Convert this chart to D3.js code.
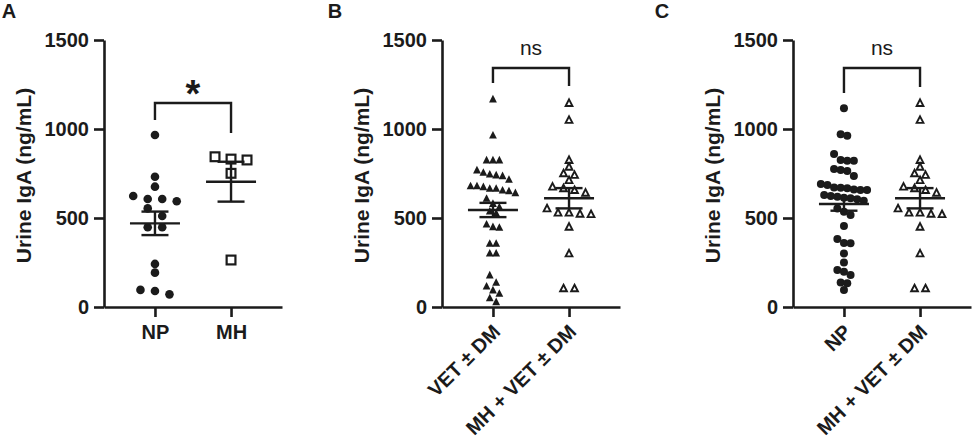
<!DOCTYPE html>
<html>
<head>
<meta charset="utf-8">
<script src="https://cdn.jsdelivr.net/npm/d3@7"></script>
<style>
  html, body { margin: 0; padding: 0; background: #ffffff; }
  svg { display: block; }
  text { font-family: "Liberation Sans", Arial, Helvetica, sans-serif; fill: #1b1b1b; }
</style>
</head>
<body>
<svg id="chart" width="975" height="442"></svg>
<script>
// ---------------- DATA ----------------
const yTicks = [0, 500, 1000, 1500];
const yTitle = "Urine IgA (ng/mL)";
const panelLabels = ["A", "B", "C"];

// Panel A
const catsA = ["NP", "MH"];
const npA = [966, 732, 676, 624, 607, 594, 607, 554, 511, 448, 448, 242, 193, 96, 90, 71];
const mhA = [831, 844, 826, 751, 264];
const meanA = [470, 704];
const semA = [66, 112];
const bracketA = [1146, 1051, 978];
const sigA = "*";

// Panel B
const catsB = ["VET ± DM", "MH + VET ± DM"];
const vetB = [1169, 966, 826, 826, 826, 770, 742, 738, 757, 747, 717, 681, 681, 657, 642, 653,
              667, 667, 676, 611, 582, 563, 539, 528, 466, 448, 451, 358, 358, 303, 303, 180,
              139, 118, 96, 77, 52, 30];
const mhVet = [1146, 1051, 826, 788, 751, 742, 713, 657, 642, 667, 676, 524, 554, 530, 530, 522,
               451, 301, 105, 105];
const meanB = [545, 611];
const semB = [40, 57];
const bracketB = [1343, 1258, 1242];
const sigB = "ns";

// Panel C
const catsC = ["NP", "MH + VET ± DM"];
const npC = [1116, 970, 962, 860, 826, 822, 822, 775, 770, 764, 736,
             685, 670, 672, 657, 667, 691, 657, 660,
             611, 614, 620, 624, 629, 597, 605,
             554, 535, 517, 455, 382, 360, 358, 301, 250, 208, 198, 180, 137, 133, 96];
const meanC = [579, 611];
const semC = [38, 57];
const bracketC = [1343, 1202, 1236];
const sigC = "ns";

// ---------------- CHART ----------------
const ink = "#1b1b1b";
const svg = d3.select("#chart");

const panels = [
  { label: panelLabels[0], cats: catsA, groups: [npA, mhA], shapes: ["circle", "squareOpen"],
    steps: [14.5, 16], bins: [8.5, 8.5], markerR: 4.3,
    mean: meanA, sem: semA, bracket: bracketA, sig: sigA, rotate: false,
    axisX: 104, labelX: 9, titleX: 24 },
  { label: panelLabels[1], cats: catsB, groups: [vetB, mhVet], shapes: ["triFilled", "triOpen"],
    steps: [6.4, 11], bins: [9.5, 6.5], markerR: 4,
    mean: meanB, sem: semB, bracket: bracketB, sig: sigB, rotate: true,
    axisX: 442, labelX: 335, titleX: 362 },
  { label: panelLabels[2], cats: catsC, groups: [npC, mhVet], shapes: ["circle", "triOpen"],
    steps: [6.6, 11], bins: [7, 6.5], markerR: 4,
    mean: meanC, sem: semC, bracket: bracketC, sig: sigC, rotate: true,
    axisX: 793, labelX: 662, titleX: 713 }
];

const y = d3.scaleLinear().domain([0, 1500]).range([307, 40]);
const plotW = 178;

// Row-binned scatter (GraphPad-like): points with close y share a row, centred on the category
function swarm(values, cx, step, binH) {
  const sorted = values.slice().sort((a, b) => b - a);
  const rows = [];
  let cur = null;
  sorted.forEach(v => {
    const py = y(v);
    if (cur && py - cur.y0 < binH) cur.pts.push(py);
    else { cur = { y0: py, pts: [py] }; rows.push(cur); }
  });
  const out = [];
  rows.forEach(r => {
    const n = r.pts.length;
    r.pts.forEach((py, i) => out.push({ x: cx + (i - (n - 1) / 2) * step, y: py }));
  });
  return out;
}

function marker(g, shape, x0, y0, r) {
  if (shape === "circle") {
    g.append("circle").attr("cx", x0).attr("cy", y0).attr("r", r).attr("fill", ink);
  } else if (shape === "squareOpen") {
    g.append("rect").attr("x", x0 - 4.4).attr("y", y0 - 4.4).attr("width", 8.8).attr("height", 8.8)
      .attr("fill", "#fff").attr("stroke", ink).attr("stroke-width", 2.2);
  } else if (shape === "triFilled") {
    const w = 7.8, h = 7;
    g.append("path").attr("d", `M${x0},${y0 - h / 2 - 0.6}L${x0 + w / 2},${y0 + h / 2}L${x0 - w / 2},${y0 + h / 2}Z`)
      .attr("fill", ink);
  } else if (shape === "triOpen") {
    const w = 6.8, h = 6;
    g.append("path").attr("d", `M${x0},${y0 - h / 2 - 0.6}L${x0 + w / 2},${y0 + h / 2}L${x0 - w / 2},${y0 + h / 2}Z`)
      .attr("fill", "#fff").attr("stroke", ink).attr("stroke-width", 1.9).attr("stroke-linejoin", "miter");
  }
}

panels.forEach(P => {
  const g = svg.append("g").attr("transform", `translate(${P.axisX},0)`);
  const x = d3.scalePoint().domain(P.cats).range([0, plotW]).padding(0.67);

  // panel letter
  svg.append("text").attr("x", P.labelX).attr("y", 18).attr("text-anchor", "middle")
    .attr("font-size", 20).attr("font-weight", "bold").text(P.label);

  // y-axis title
  svg.append("text")
    .attr("transform", `translate(${P.titleX},${(40 + 307) / 2 + 2}) rotate(-90)`)
    .attr("text-anchor", "middle").attr("dy", "0.35em")
    .attr("font-size", 21).attr("font-weight", "bold").text(yTitle);

  // points (drawn under the summary lines)
  P.groups.forEach((vals, gi) => {
    const cx = x(P.cats[gi]);
    const pts = swarm(vals, cx, P.steps[gi], P.bins[gi]);
    const mg = g.append("g");
    pts.forEach(p => marker(mg, P.shapes[gi], p.x, p.y, P.markerR));
  });

  // y axis
  const ya = g.append("g").call(d3.axisLeft(y).tickValues(yTicks).tickFormat(d3.format("d"))
    .tickSize(10).tickSizeOuter(0).tickPadding(5));
  ya.select(".domain").attr("stroke", ink).attr("stroke-width", 2.6);
  ya.selectAll(".tick line").attr("stroke", ink).attr("stroke-width", 2.6);
  ya.selectAll(".tick text").attr("font-size", 20).attr("font-weight", "bold").attr("fill", ink)
    .style("font-family", '"Liberation Sans", Arial, sans-serif');

  // x axis
  const xa = g.append("g").attr("transform", `translate(0,${y(0)})`)
    .call(d3.axisBottom(x).tickSize(10).tickSizeOuter(0).tickPadding(8));
  xa.select(".domain").attr("stroke", ink).attr("stroke-width", 2.6);
  xa.selectAll(".tick line").attr("stroke", ink).attr("stroke-width", 2.6);
  xa.selectAll(".tick text").attr("font-size", 20).attr("font-weight", "bold").attr("fill", ink)
    .style("font-family", '"Liberation Sans", Arial, sans-serif');
  if (P.rotate) {
    xa.selectAll(".tick text")
      .attr("text-anchor", "end").attr("dy", "0.35em")
      .attr("transform", "translate(3,21) rotate(-45)")
      .attr("y", 0).attr("x", 0);
  }

  // mean and SEM
  P.cats.forEach((c, gi) => {
    const cx = x(c);
    const m = P.mean[gi], s = P.sem[gi];
    const sg = g.append("g").attr("stroke", ink).attr("stroke-width", 2.4).attr("fill", "none");
    sg.append("line").attr("x1", cx - 25).attr("x2", cx + 25).attr("y1", y(m)).attr("y2", y(m));
    sg.append("line").attr("x1", cx).attr("x2", cx).attr("y1", y(m + s)).attr("y2", y(m - s));
    sg.append("line").attr("x1", cx - 13.5).attr("x2", cx + 13.5).attr("y1", y(m + s)).attr("y2", y(m + s));
    sg.append("line").attr("x1", cx - 13.5).attr("x2", cx + 13.5).attr("y1", y(m - s)).attr("y2", y(m - s));
  });

  // significance bracket
  const x1 = x(P.cats[0]), x2 = x(P.cats[1]);
  const [top, l1, l2] = P.bracket;
  g.append("path")
    .attr("d", `M${x1},${y(l1)}V${y(top)}H${x2}V${y(l2)}`)
    .attr("fill", "none").attr("stroke", ink).attr("stroke-width", 2.4);
  if (P.sig === "*") {
    g.append("text").attr("x", (x1 + x2) / 2).attr("y", y(top) + 4).attr("text-anchor", "middle")
      .attr("font-size", 38).attr("font-weight", "bold").text(P.sig);
  } else {
    g.append("text").attr("x", (x1 + x2) / 2).attr("y", y(top) - 13).attr("text-anchor", "middle")
      .attr("font-size", 21).text(P.sig);
  }
});
</script>
</body>
</html>
